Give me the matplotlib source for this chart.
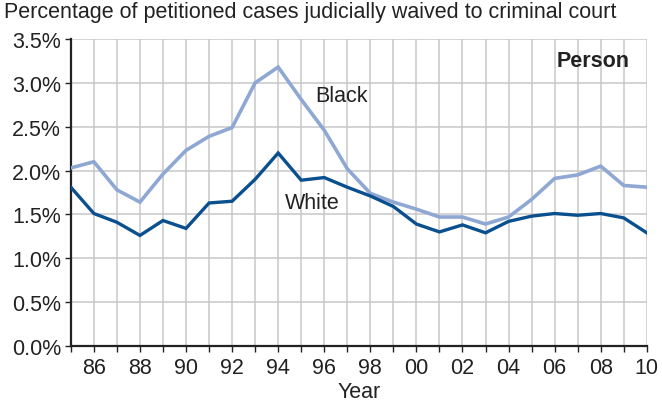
import matplotlib
matplotlib.use("Agg")
import matplotlib.pyplot as plt
from matplotlib.ticker import FuncFormatter, MultipleLocator

plt.rcParams['font.family'] = ['Liberation Sans', 'DejaVu Sans']

years = list(range(1985, 2011))
black = [2.03, 2.10, 1.78, 1.64, 1.96, 2.23, 2.39, 2.49, 3.00, 3.18, 2.81, 2.46, 2.02,
         1.74, 1.64, 1.56, 1.47, 1.47, 1.39, 1.47, 1.67, 1.91, 1.95, 2.05, 1.83, 1.81]
white = [1.81, 1.51, 1.41, 1.26, 1.43, 1.34, 1.63, 1.65, 1.90, 2.20, 1.89, 1.92, 1.81,
         1.71, 1.59, 1.39, 1.30, 1.38, 1.29, 1.42, 1.48, 1.51, 1.49, 1.51, 1.46, 1.29]

fs = 15.5
fig = plt.figure(figsize=(6.62, 4.02), dpi=100)
ax = fig.add_axes([0.107, 0.137, 0.87, 0.7635])

ax.plot(years, black, color='#8fa7d3', lw=2.6, solid_joinstyle='miter', zorder=3)
ax.plot(years, white, color='#0a4f8e', lw=2.4, solid_joinstyle='miter', zorder=4)

ax.set_xlim(1985, 2010)
ax.set_ylim(0, 3.5)
ax.xaxis.set_minor_locator(MultipleLocator(1))
ax.set_xticks(range(1986, 2011, 2))
ax.set_xticklabels(['%02d' % (y % 100) for y in range(1986, 2011, 2)])
ax.yaxis.set_major_locator(MultipleLocator(0.5))
ax.yaxis.set_major_formatter(FuncFormatter(lambda v, p: '%.1f%%' % v))

ax.grid(True, which='both', color='#c8c8cc', lw=1.1, zorder=0)
ax.set_axisbelow(True)
for s in ['top', 'right']:
    ax.spines[s].set_visible(False)
for s in ['left', 'bottom']:
    ax.spines[s].set_linewidth(1.6)
    ax.spines[s].set_color('#222222')
ax.tick_params(axis='both', which='both', length=4, width=1, color='#222222',
               labelsize=fs, labelcolor='#222222')
ax.tick_params(axis='x', pad=4)
ax.tick_params(axis='y', pad=3)

ax.set_xlabel('Year', fontsize=fs, color='#222222', labelpad=2)
fig.text(0.006, 0.995, 'Percentage of petitioned cases judicially waived to criminal court',
         fontsize=fs, color='#222222', va='top', ha='left')

ax.text(1995.6, 2.85, 'Black', fontsize=fs, color='#222222', va='center', ha='left')
ax.text(1994.3, 1.63, 'White', fontsize=fs, color='#222222', va='center', ha='left')
ax.text(2007.67, 3.25, 'Person', fontsize=fs, fontweight='bold', color='#222222',
        va='center', ha='center')

fig.savefig('out.png', dpi=100)
